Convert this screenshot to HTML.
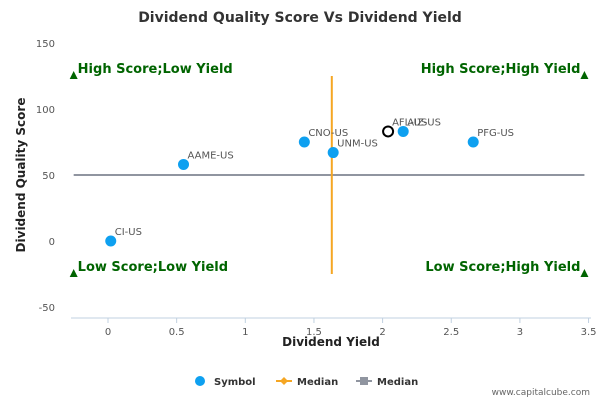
<!DOCTYPE html>
<html><head><meta charset="utf-8"><style>
body{margin:0;background:#fff;font-family:"Liberation Sans","DejaVu Sans",sans-serif}
svg text{font-family:"DejaVu Sans","Liberation Sans",sans-serif}
</style></head><body>
<svg id="chart" width="600" height="400" xmlns="http://www.w3.org/2000/svg">
<text x="300" y="22" text-anchor="middle" font-size="14" font-weight="bold" fill="#333">Dividend Quality Score Vs Dividend Yield</text>
<text x="25" y="175" transform="rotate(-90 25 175)" text-anchor="middle" font-size="12" font-weight="bold" fill="#222">Dividend Quality Score</text>
<text x="331" y="346" text-anchor="middle" font-size="12" font-weight="bold" fill="#222">Dividend Yield</text>
<g id="axes"></g><g id="marks"></g>
<g>
<g><circle cx="200" cy="381" r="5" fill="#0ea0f0"/><text x="214" y="385" font-size="10" font-weight="bold" fill="#333">Symbol</text></g>
<g><line x1="276" y1="381" x2="292" y2="381" stroke="#f5a623" stroke-width="2"/><path d="M284 377 L288 381 L284 385 L280 381Z" fill="#f5a623"/><text x="297" y="385" font-size="10" font-weight="bold" fill="#333">Median</text></g>
<g><line x1="356" y1="381" x2="372" y2="381" stroke="#9095a0" stroke-width="2"/><rect x="360" y="377" width="8" height="8" fill="#9095a0"/><text x="377" y="385" font-size="10" font-weight="bold" fill="#333">Median</text></g>
</g>
<text x="590" y="395" text-anchor="end" font-size="9" fill="#666">www.capitalcube.com</text>
</svg>
<script>
const symbols=["CI-US","AAME-US","CNO-US","UNM-US","AFL-US","AIZ-US","PFG-US"];
const yields=[0.02,0.55,1.43,1.64,2.04,2.15,2.66];
const scores=[0,58,75,67,83,83,75];
const highlight=[false,false,false,false,true,false,false];
const xTicks=[0,0.5,1,1.5,2,2.5,3,3.5];
const yTicks=[150,100,50,0,-50];
const medianYield=1.63, medianScore=50;
const quadrants=[["High Score;Low Yield",-0.25,125,"start"],["High Score;High Yield",3.47,125,"end"],["Low Score;Low Yield",-0.25,-25,"start"],["Low Score;High Yield",3.47,-25,"end"]];
const X=v=>108+v*137.3, Y=v=>241-v*1.32;
const NS="http://www.w3.org/2000/svg";
function mk(p,t,a){const e=document.createElementNS(NS,t);for(const k in a)e.setAttribute(k,a[k]);p.appendChild(e);return e;}
const ax=document.getElementById('axes'), mg=document.getElementById('marks');
const xl=mk(ax,'line',{x1:71,x2:591,y1:318,y2:318,stroke:'#c0d0e0'});


xTicks.forEach(t=>{
 const tk=mk(ax,'line',{x1:X(t),x2:X(t),y1:318,y2:323,stroke:'#c0d0e0'});
 
 
 const tx=mk(ax,'text',{x:X(t),y:328+7,'text-anchor':'middle','font-size':10,fill:'#555'});tx.textContent=t;
 
 
});
yTicks.forEach(t=>{
 const tx=mk(ax,'text',{x:55,y:Y(t)+4,'text-anchor':'end','font-size':10,fill:'#555'});tx.textContent=t;
 
 
});
const hm=mk(mg,'line',{x1:X(-0.25),x2:X(3.47),y1:Y(medianScore),y2:Y(medianScore),stroke:'#9095a0','stroke-width':2});


const vm=mk(mg,'line',{x1:X(medianYield),x2:X(medianYield),y1:Y(125),y2:Y(-25),stroke:'#f5a623','stroke-width':2});


quadrants.forEach(q=>{
 const x=X(q[1]),y=Y(q[2]);
 const tr=mk(mg,'path',{d:`M${x} ${y-5} L${x+4} ${y+3} L${x-4} ${y+3}Z`,fill:'#006400'});
 
 
 const tx=mk(mg,'text',{x:q[3]=='start'?x+4:x-4,y:y-3,'text-anchor':q[3],'font-size':13,'font-weight':'bold',fill:'#006400'});tx.textContent=q[0];
 
 
});
symbols.forEach((s,i)=>{
 const cx=X(yields[i]),cy=Y(scores[i]);
 const c=highlight[i]?mk(mg,'circle',{cx,cy,r:5,fill:'#fff',stroke:'#000','stroke-width':2}):mk(mg,'circle',{cx,cy,r:5.5,fill:'#0ea0f0'});
 
 
 const tx=mk(mg,'text',{x:cx+4,y:cy-6,'font-size':10,fill:'#555'});tx.textContent=s;
 
 
});
</script>
</body></html>
